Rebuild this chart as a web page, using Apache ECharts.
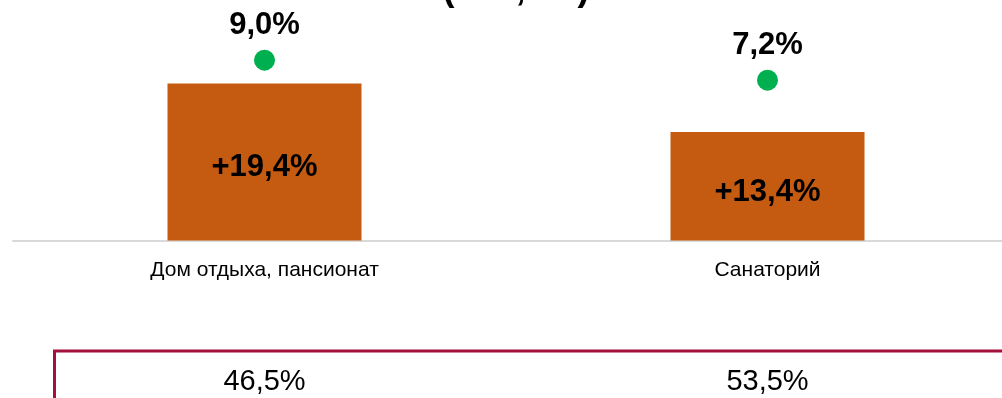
<!DOCTYPE html>
<html>
<head>
<meta charset="utf-8">
<script src="https://cdn.jsdelivr.net/npm/echarts@6/dist/echarts.min.js"></script>
<style>
  html, body { margin: 0; padding: 0; background: #fff; }
  #chart { width: 1002px; height: 398px; }
</style>
</head>
<body>
<div id="chart"></div>
<script>
// Chart data
const categories = ['Дом отдыха, пансионат', 'Санаторий']
const growthValues = [19.4, 13.4]     // bars, %
const pointValues = [9.0, 7.2]        // green dots, %
const shareValues = [46.5, 53.5]      // bottom row, %
const titleText = '(+15,2%)'

const fmt = (v, plus) => (plus ? '+' : '') + v.toFixed(1).replace('.', ',') + '%'

const FONT = "'Liberation Sans', Arial, sans-serif"

const chart = echarts.init(document.getElementById('chart'))

const option = {
  backgroundColor: '#ffffff',
  animation: false,
  textStyle: { fontFamily: FONT },
  // grid runs past the right edge, like the cropped original
  grid: {
    left: 13,
    width: 1006,
    top: 0,
    bottom: 157.5,
    outerBoundsMode: 'none'
  },
  xAxis: [
    {
      type: 'category',
      data: categories,
      axisLine: { lineStyle: { color: '#d9d9d9', width: 2 } },
      axisTick: { show: false },
      axisLabel: {
        color: '#000',
        fontSize: 21,
        fontFamily: FONT,
        margin: 19
      }
    },
    {
      type: 'category',
      position: 'bottom',
      offset: 120,
      data: shareValues.map(v => fmt(v)),
      axisLine: { show: false },
      axisTick: { show: false },
      axisLabel: {
        color: '#000',
        fontSize: 29,
        fontFamily: FONT,
        margin: 7
      }
    }
  ],
  yAxis: [
    {
      type: 'value',
      min: 0,
      max: 29.7,
      show: false,
      splitLine: { show: false }
    },
    {
      type: 'value',
      min: -7.2,
      max: 14.4,
      show: false,
      splitLine: { show: false }
    }
  ],
  series: [
    {
      name: 'Прирост',
      type: 'bar',
      xAxisIndex: 0,
      yAxisIndex: 0,
      data: growthValues,
      barWidth: 194,
      itemStyle: { color: '#c55a11' },
      label: {
        show: true,
        position: 'inside',
        offset: [0, 6],
        color: '#000',
        fontSize: 31,
        fontWeight: 'bold',
        fontFamily: FONT,
        formatter: p => fmt(p.value, true)
      }
    },
    {
      name: 'Точки',
      type: 'scatter',
      xAxisIndex: 0,
      yAxisIndex: 1,
      data: pointValues,
      symbol: 'circle',
      symbolSize: 21,
      itemStyle: { color: '#00b050', opacity: 1 },
      label: {
        show: true,
        position: 'top',
        distance: 9,
        color: '#000',
        opacity: 1,
        fontSize: 31,
        fontWeight: 'bold',
        fontFamily: FONT,
        formatter: p => fmt(p.value)
      }
    }
  ],
  graphic: [
    {
      type: 'text',
      x: 516,
      y: -10,
      style: {
        text: titleText,
        font: 'bold 36px ' + FONT,
        fill: '#000',
        align: 'center',
        verticalAlign: 'middle'
      }
    },
    {
      type: 'rect',
      shape: { x: 54.5, y: 351, width: 1100, height: 200 },
      style: { fill: 'none', stroke: '#a50f3c', lineWidth: 3 }
    }
  ]
}

chart.setOption(option)
</script>
</body>
</html>
